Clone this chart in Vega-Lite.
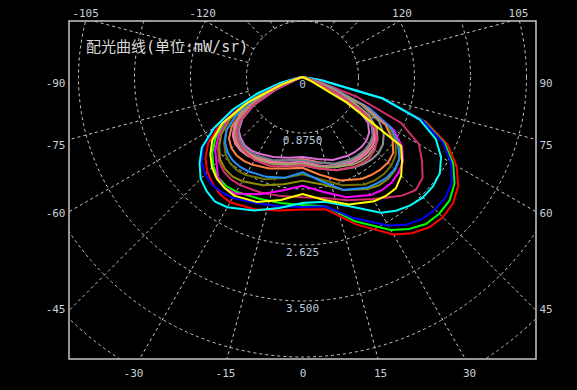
{
"$schema": "https://vega.github.io/schema/vega-lite/v6.json",
"width": 467, "height": 338,
"autosize": {"type": "none"},
"padding": {"left": 69, "top": 21, "right": 41, "bottom": 31},
"background": "#000000",
"config": {"view": {"stroke": "#c8c8c8", "strokeWidth": 1.5}, "font": "DejaVu Sans Mono"},
"resolve": {"axis": {"x": "independent", "y": "independent"}},
"datasets": {
"rings": [{"r": 0.875}, {"r": 1.75}, {"r": 2.625}, {"r": 3.5}, {"r": 4.375}, {"r": 5.25}],
"spokes": [{"a": 15}, {"a": 30}, {"a": 45}, {"a": 60}, {"a": 75}, {"a": 105}, {"a": 120}, {"a": 135}, {"a": 150}, {"a": 165}, {"a": -15}, {"a": -30}, {"a": -45}, {"a": -60}, {"a": -75}, {"a": -105}, {"a": -120}, {"a": -135}, {"a": -150}, {"a": -165}],
"ringlabels": [{"r": 0, "t": "0"}, {"r": 0.875, "t": "0.8750"}, {"r": 2.625, "t": "2.625"}, {"r": 3.5, "t": "3.500"}],
"curves": [
{"c":"red","a":-90,"r":0},{"c":"red","a":-80,"r":0.08},{"c":"red","a":-75,"r":0.3},{"c":"red","a":-70,"r":0.68},{"c":"red","a":-65,"r":1.1},{"c":"red","a":-60,"r":1.5},{"c":"red","a":-55,"r":1.8},{"c":"red","a":-50,"r":1.98},{"c":"red","a":-45,"r":2.1},{"c":"red","a":-40,"r":2.18},{"c":"red","a":-35,"r":2.24},{"c":"red","a":-30,"r":2.26},{"c":"red","a":-20,"r":2.2},{"c":"red","a":-10,"r":2.12},{"c":"red","a":0,"r":2.07},{"c":"red","a":10,"r":2.1},{"c":"red","a":20,"r":2.45},{"c":"red","a":30,"r":2.84},{"c":"red","a":35,"r":2.98},{"c":"red","a":40,"r":3.07},{"c":"red","a":45,"r":3.1},{"c":"red","a":50,"r":3.07},{"c":"red","a":55,"r":2.97},{"c":"red","a":60,"r":2.78},{"c":"red","a":65,"r":2.5},{"c":"red","a":70,"r":2.05},{"c":"red","a":75,"r":1.3},{"c":"red","a":80,"r":0.3},{"c":"red","a":90,"r":0},
{"c":"green","a":-90,"r":0},{"c":"green","a":-80,"r":0.06},{"c":"green","a":-75,"r":0.25},{"c":"green","a":-70,"r":0.6},{"c":"green","a":-65,"r":1.0},{"c":"green","a":-60,"r":1.38},{"c":"green","a":-55,"r":1.66},{"c":"green","a":-50,"r":1.84},{"c":"green","a":-45,"r":1.97},{"c":"green","a":-40,"r":2.05},{"c":"green","a":-35,"r":2.08},{"c":"green","a":-30,"r":2.07},{"c":"green","a":-20,"r":2.02},{"c":"green","a":-10,"r":2.0},{"c":"green","a":0,"r":2.0},{"c":"green","a":10,"r":2.05},{"c":"green","a":20,"r":2.4},{"c":"green","a":30,"r":2.76},{"c":"green","a":35,"r":2.9},{"c":"green","a":40,"r":3.0},{"c":"green","a":45,"r":3.02},{"c":"green","a":50,"r":3.0},{"c":"green","a":55,"r":2.9},{"c":"green","a":60,"r":2.72},{"c":"green","a":65,"r":2.45},{"c":"green","a":70,"r":2.02},{"c":"green","a":75,"r":1.3},{"c":"green","a":80,"r":0.3},{"c":"green","a":90,"r":0},
{"c":"blue","a":-90,"r":0},{"c":"blue","a":-80,"r":0.08},{"c":"blue","a":-75,"r":0.32},{"c":"blue","a":-70,"r":0.72},{"c":"blue","a":-65,"r":1.15},{"c":"blue","a":-60,"r":1.58},{"c":"blue","a":-55,"r":1.9},{"c":"blue","a":-50,"r":2.06},{"c":"blue","a":-45,"r":2.15},{"c":"blue","a":-40,"r":2.2},{"c":"blue","a":-35,"r":2.2},{"c":"blue","a":-30,"r":2.18},{"c":"blue","a":-20,"r":2.1},{"c":"blue","a":-10,"r":2.05},{"c":"blue","a":0,"r":2.03},{"c":"blue","a":10,"r":2.05},{"c":"blue","a":20,"r":2.35},{"c":"blue","a":30,"r":2.68},{"c":"blue","a":35,"r":2.82},{"c":"blue","a":40,"r":2.9},{"c":"blue","a":45,"r":2.93},{"c":"blue","a":50,"r":2.92},{"c":"blue","a":55,"r":2.85},{"c":"blue","a":60,"r":2.68},{"c":"blue","a":65,"r":2.42},{"c":"blue","a":70,"r":2.0},{"c":"blue","a":75,"r":1.3},{"c":"blue","a":80,"r":0.3},{"c":"blue","a":90,"r":0},
{"c":"cyan","a":-90,"r":0},{"c":"cyan","a":-80,"r":0.08},{"c":"cyan","a":-75,"r":0.35},{"c":"cyan","a":-70,"r":0.75},{"c":"cyan","a":-65,"r":1.2},{"c":"cyan","a":-60,"r":1.6},{"c":"cyan","a":-55,"r":1.92},{"c":"cyan","a":-50,"r":2.1},{"c":"cyan","a":-45,"r":2.25},{"c":"cyan","a":-40,"r":2.33},{"c":"cyan","a":-35,"r":2.38},{"c":"cyan","a":-30,"r":2.35},{"c":"cyan","a":-20,"r":2.22},{"c":"cyan","a":-10,"r":2.08},{"c":"cyan","a":0,"r":1.97},{"c":"cyan","a":10,"r":1.98},{"c":"cyan","a":20,"r":2.15},{"c":"cyan","a":30,"r":2.45},{"c":"cyan","a":35,"r":2.55},{"c":"cyan","a":40,"r":2.62},{"c":"cyan","a":45,"r":2.66},{"c":"cyan","a":50,"r":2.66},{"c":"cyan","a":55,"r":2.62},{"c":"cyan","a":60,"r":2.5},{"c":"cyan","a":65,"r":2.3},{"c":"cyan","a":70,"r":1.95},{"c":"cyan","a":75,"r":1.3},{"c":"cyan","a":80,"r":0.3},{"c":"cyan","a":90,"r":0},
{"c":"crimson","a":-80,"r":0},{"c":"crimson","a":-75,"r":0.1},{"c":"crimson","a":-70,"r":0.4},{"c":"crimson","a":-65,"r":0.9},{"c":"crimson","a":-60,"r":1.3},{"c":"crimson","a":-55,"r":1.55},{"c":"crimson","a":-50,"r":1.72},{"c":"crimson","a":-45,"r":1.85},{"c":"crimson","a":-40,"r":1.92},{"c":"crimson","a":-35,"r":1.95},{"c":"crimson","a":-30,"r":1.95},{"c":"crimson","a":-20,"r":1.92},{"c":"crimson","a":-10,"r":1.89},{"c":"crimson","a":0,"r":1.88},{"c":"crimson","a":10,"r":1.92},{"c":"crimson","a":20,"r":2.05},{"c":"crimson","a":30,"r":2.2},{"c":"crimson","a":35,"r":2.3},{"c":"crimson","a":40,"r":2.42},{"c":"crimson","a":45,"r":2.5},{"c":"crimson","a":50,"r":2.45},{"c":"crimson","a":55,"r":2.28},{"c":"crimson","a":60,"r":2.1},{"c":"crimson","a":65,"r":1.7},{"c":"crimson","a":70,"r":0.9},{"c":"crimson","a":75,"r":0.25},{"c":"crimson","a":80,"r":0},
{"c":"magenta","a":-80,"r":0},{"c":"magenta","a":-75,"r":0.1},{"c":"magenta","a":-70,"r":0.45},{"c":"magenta","a":-65,"r":0.95},{"c":"magenta","a":-60,"r":1.35},{"c":"magenta","a":-55,"r":1.6},{"c":"magenta","a":-50,"r":1.78},{"c":"magenta","a":-45,"r":1.9},{"c":"magenta","a":-40,"r":2.05},{"c":"magenta","a":-35,"r":2.12},{"c":"magenta","a":-30,"r":2.1},{"c":"magenta","a":-20,"r":1.95},{"c":"magenta","a":-10,"r":1.8},{"c":"magenta","a":0,"r":1.7},{"c":"magenta","a":10,"r":1.82},{"c":"magenta","a":20,"r":2.0},{"c":"magenta","a":30,"r":2.13},{"c":"magenta","a":35,"r":2.16},{"c":"magenta","a":40,"r":2.16},{"c":"magenta","a":45,"r":2.12},{"c":"magenta","a":50,"r":2.05},{"c":"magenta","a":55,"r":1.9},{"c":"magenta","a":60,"r":1.65},{"c":"magenta","a":65,"r":1.1},{"c":"magenta","a":70,"r":0.4},{"c":"magenta","a":75,"r":0.1},{"c":"magenta","a":80,"r":0},
{"c":"olive","a":-80,"r":0},{"c":"olive","a":-75,"r":0.05},{"c":"olive","a":-70,"r":0.4},{"c":"olive","a":-65,"r":0.9},{"c":"olive","a":-60,"r":1.3},{"c":"olive","a":-55,"r":1.55},{"c":"olive","a":-50,"r":1.7},{"c":"olive","a":-45,"r":1.82},{"c":"olive","a":-40,"r":1.88},{"c":"olive","a":-35,"r":1.9},{"c":"olive","a":-30,"r":1.88},{"c":"olive","a":-20,"r":1.8},{"c":"olive","a":-10,"r":1.7},{"c":"olive","a":0,"r":1.62},{"c":"olive","a":10,"r":1.7},{"c":"olive","a":20,"r":1.88},{"c":"olive","a":30,"r":2.02},{"c":"olive","a":35,"r":2.07},{"c":"olive","a":40,"r":2.08},{"c":"olive","a":45,"r":2.05},{"c":"olive","a":50,"r":1.98},{"c":"olive","a":55,"r":1.85},{"c":"olive","a":60,"r":1.6},{"c":"olive","a":65,"r":1.1},{"c":"olive","a":70,"r":0.4},{"c":"olive","a":75,"r":0.05},{"c":"olive","a":80,"r":0},
{"c":"olive2","a":-75,"r":0},{"c":"olive2","a":-70,"r":0.3},{"c":"olive2","a":-65,"r":0.8},{"c":"olive2","a":-60,"r":1.2},{"c":"olive2","a":-55,"r":1.45},{"c":"olive2","a":-50,"r":1.6},{"c":"olive2","a":-45,"r":1.7},{"c":"olive2","a":-40,"r":1.76},{"c":"olive2","a":-35,"r":1.78},{"c":"olive2","a":-30,"r":1.77},{"c":"olive2","a":-20,"r":1.7},{"c":"olive2","a":-10,"r":1.6},{"c":"olive2","a":0,"r":1.52},{"c":"olive2","a":10,"r":1.62},{"c":"olive2","a":20,"r":1.8},{"c":"olive2","a":30,"r":1.94},{"c":"olive2","a":35,"r":1.97},{"c":"olive2","a":40,"r":1.98},{"c":"olive2","a":45,"r":1.96},{"c":"olive2","a":50,"r":1.9},{"c":"olive2","a":55,"r":1.78},{"c":"olive2","a":60,"r":1.55},{"c":"olive2","a":65,"r":1.05},{"c":"olive2","a":70,"r":0.4},{"c":"olive2","a":75,"r":0.05},{"c":"olive2","a":80,"r":0},
{"c":"dodger","a":-80,"r":0},{"c":"dodger","a":-75,"r":0.05},{"c":"dodger","a":-70,"r":0.35},{"c":"dodger","a":-65,"r":0.8},{"c":"dodger","a":-60,"r":1.2},{"c":"dodger","a":-55,"r":1.45},{"c":"dodger","a":-50,"r":1.58},{"c":"dodger","a":-45,"r":1.66},{"c":"dodger","a":-40,"r":1.7},{"c":"dodger","a":-35,"r":1.71},{"c":"dodger","a":-30,"r":1.7},{"c":"dodger","a":-20,"r":1.66},{"c":"dodger","a":-10,"r":1.6},{"c":"dodger","a":0,"r":1.49},{"c":"dodger","a":10,"r":1.65},{"c":"dodger","a":20,"r":1.88},{"c":"dodger","a":30,"r":2.0},{"c":"dodger","a":35,"r":2.03},{"c":"dodger","a":40,"r":2.05},{"c":"dodger","a":45,"r":2.04},{"c":"dodger","a":50,"r":1.98},{"c":"dodger","a":55,"r":1.82},{"c":"dodger","a":60,"r":1.6},{"c":"dodger","a":65,"r":1.15},{"c":"dodger","a":70,"r":0.5},{"c":"dodger","a":75,"r":0.1},{"c":"dodger","a":80,"r":0},
{"c":"orange","a":-75,"r":0},{"c":"orange","a":-70,"r":0.25},{"c":"orange","a":-65,"r":0.7},{"c":"orange","a":-60,"r":1.1},{"c":"orange","a":-55,"r":1.35},{"c":"orange","a":-50,"r":1.5},{"c":"orange","a":-45,"r":1.57},{"c":"orange","a":-40,"r":1.6},{"c":"orange","a":-35,"r":1.6},{"c":"orange","a":-30,"r":1.58},{"c":"orange","a":-20,"r":1.52},{"c":"orange","a":-10,"r":1.45},{"c":"orange","a":0,"r":1.42},{"c":"orange","a":10,"r":1.55},{"c":"orange","a":20,"r":1.72},{"c":"orange","a":30,"r":1.84},{"c":"orange","a":35,"r":1.87},{"c":"orange","a":40,"r":1.89},{"c":"orange","a":45,"r":1.89},{"c":"orange","a":50,"r":1.85},{"c":"orange","a":55,"r":1.72},{"c":"orange","a":60,"r":1.5},{"c":"orange","a":65,"r":1.05},{"c":"orange","a":70,"r":0.45},{"c":"orange","a":75,"r":0.05},{"c":"orange","a":80,"r":0},
{"c":"gray","a":-75,"r":0},{"c":"gray","a":-70,"r":0.2},{"c":"gray","a":-65,"r":0.65},{"c":"gray","a":-60,"r":1.05},{"c":"gray","a":-55,"r":1.3},{"c":"gray","a":-50,"r":1.42},{"c":"gray","a":-45,"r":1.48},{"c":"gray","a":-40,"r":1.5},{"c":"gray","a":-35,"r":1.5},{"c":"gray","a":-30,"r":1.48},{"c":"gray","a":-20,"r":1.44},{"c":"gray","a":-10,"r":1.4},{"c":"gray","a":0,"r":1.38},{"c":"gray","a":10,"r":1.45},{"c":"gray","a":20,"r":1.55},{"c":"gray","a":30,"r":1.63},{"c":"gray","a":35,"r":1.66},{"c":"gray","a":40,"r":1.68},{"c":"gray","a":45,"r":1.68},{"c":"gray","a":50,"r":1.64},{"c":"gray","a":55,"r":1.55},{"c":"gray","a":60,"r":1.38},{"c":"gray","a":65,"r":1.0},{"c":"gray","a":70,"r":0.45},{"c":"gray","a":75,"r":0.05},{"c":"gray","a":80,"r":0},
{"c":"teal","a":-75,"r":0},{"c":"teal","a":-70,"r":0.15},{"c":"teal","a":-65,"r":0.55},{"c":"teal","a":-60,"r":0.95},{"c":"teal","a":-55,"r":1.2},{"c":"teal","a":-50,"r":1.35},{"c":"teal","a":-45,"r":1.42},{"c":"teal","a":-40,"r":1.45},{"c":"teal","a":-35,"r":1.46},{"c":"teal","a":-30,"r":1.45},{"c":"teal","a":-20,"r":1.42},{"c":"teal","a":-10,"r":1.4},{"c":"teal","a":0,"r":1.38},{"c":"teal","a":10,"r":1.42},{"c":"teal","a":20,"r":1.48},{"c":"teal","a":30,"r":1.52},{"c":"teal","a":35,"r":1.54},{"c":"teal","a":40,"r":1.55},{"c":"teal","a":45,"r":1.54},{"c":"teal","a":50,"r":1.5},{"c":"teal","a":55,"r":1.4},{"c":"teal","a":60,"r":1.2},{"c":"teal","a":65,"r":0.8},{"c":"teal","a":70,"r":0.3},{"c":"teal","a":75,"r":0},
{"c":"salmon","a":-75,"r":0},{"c":"salmon","a":-70,"r":0.1},{"c":"salmon","a":-65,"r":0.5},{"c":"salmon","a":-60,"r":0.95},{"c":"salmon","a":-55,"r":1.25},{"c":"salmon","a":-50,"r":1.38},{"c":"salmon","a":-45,"r":1.44},{"c":"salmon","a":-40,"r":1.46},{"c":"salmon","a":-35,"r":1.46},{"c":"salmon","a":-30,"r":1.45},{"c":"salmon","a":-20,"r":1.4},{"c":"salmon","a":-10,"r":1.32},{"c":"salmon","a":0,"r":1.28},{"c":"salmon","a":10,"r":1.35},{"c":"salmon","a":20,"r":1.45},{"c":"salmon","a":30,"r":1.5},{"c":"salmon","a":35,"r":1.52},{"c":"salmon","a":40,"r":1.52},{"c":"salmon","a":45,"r":1.5},{"c":"salmon","a":50,"r":1.45},{"c":"salmon","a":55,"r":1.32},{"c":"salmon","a":60,"r":1.05},{"c":"salmon","a":65,"r":0.55},{"c":"salmon","a":70,"r":0.1},{"c":"salmon","a":75,"r":0},
{"c":"hotpink","a":-75,"r":0},{"c":"hotpink","a":-70,"r":0.12},{"c":"hotpink","a":-65,"r":0.55},{"c":"hotpink","a":-60,"r":1.0},{"c":"hotpink","a":-55,"r":1.28},{"c":"hotpink","a":-50,"r":1.42},{"c":"hotpink","a":-45,"r":1.48},{"c":"hotpink","a":-40,"r":1.5},{"c":"hotpink","a":-35,"r":1.5},{"c":"hotpink","a":-30,"r":1.48},{"c":"hotpink","a":-20,"r":1.42},{"c":"hotpink","a":-10,"r":1.36},{"c":"hotpink","a":0,"r":1.32},{"c":"hotpink","a":10,"r":1.4},{"c":"hotpink","a":20,"r":1.5},{"c":"hotpink","a":30,"r":1.55},{"c":"hotpink","a":35,"r":1.56},{"c":"hotpink","a":40,"r":1.56},{"c":"hotpink","a":45,"r":1.54},{"c":"hotpink","a":50,"r":1.48},{"c":"hotpink","a":55,"r":1.36},{"c":"hotpink","a":60,"r":1.1},{"c":"hotpink","a":65,"r":0.6},{"c":"hotpink","a":70,"r":0.12},{"c":"hotpink","a":75,"r":0},
{"c":"orchid","a":-75,"r":0},{"c":"orchid","a":-70,"r":0.08},{"c":"orchid","a":-65,"r":0.45},{"c":"orchid","a":-60,"r":0.88},{"c":"orchid","a":-55,"r":1.15},{"c":"orchid","a":-50,"r":1.3},{"c":"orchid","a":-45,"r":1.36},{"c":"orchid","a":-40,"r":1.4},{"c":"orchid","a":-35,"r":1.4},{"c":"orchid","a":-30,"r":1.38},{"c":"orchid","a":-20,"r":1.33},{"c":"orchid","a":-10,"r":1.28},{"c":"orchid","a":0,"r":1.25},{"c":"orchid","a":10,"r":1.3},{"c":"orchid","a":20,"r":1.38},{"c":"orchid","a":30,"r":1.42},{"c":"orchid","a":35,"r":1.43},{"c":"orchid","a":40,"r":1.43},{"c":"orchid","a":45,"r":1.41},{"c":"orchid","a":50,"r":1.36},{"c":"orchid","a":55,"r":1.25},{"c":"orchid","a":60,"r":1.0},{"c":"orchid","a":65,"r":0.5},{"c":"orchid","a":70,"r":0.08},{"c":"orchid","a":75,"r":0},
{"c":"khaki","a":-75,"r":0},{"c":"khaki","a":-70,"r":0.15},{"c":"khaki","a":-65,"r":0.6},{"c":"khaki","a":-60,"r":1.0},{"c":"khaki","a":-55,"r":1.25},{"c":"khaki","a":-50,"r":1.38},{"c":"khaki","a":-45,"r":1.45},{"c":"khaki","a":-40,"r":1.48},{"c":"khaki","a":-35,"r":1.49},{"c":"khaki","a":-30,"r":1.48},{"c":"khaki","a":-20,"r":1.44},{"c":"khaki","a":-10,"r":1.38},{"c":"khaki","a":0,"r":1.35},{"c":"khaki","a":10,"r":1.42},{"c":"khaki","a":20,"r":1.5},{"c":"khaki","a":30,"r":1.58},{"c":"khaki","a":35,"r":1.6},{"c":"khaki","a":40,"r":1.6},{"c":"khaki","a":45,"r":1.58},{"c":"khaki","a":50,"r":1.53},{"c":"khaki","a":55,"r":1.42},{"c":"khaki","a":60,"r":1.2},{"c":"khaki","a":65,"r":0.8},{"c":"khaki","a":70,"r":0.3},{"c":"khaki","a":75,"r":0},
{"c":"slate","a":-75,"r":0},{"c":"slate","a":-70,"r":0.12},{"c":"slate","a":-65,"r":0.52},{"c":"slate","a":-60,"r":0.92},{"c":"slate","a":-55,"r":1.18},{"c":"slate","a":-50,"r":1.32},{"c":"slate","a":-45,"r":1.39},{"c":"slate","a":-40,"r":1.42},{"c":"slate","a":-35,"r":1.43},{"c":"slate","a":-30,"r":1.42},{"c":"slate","a":-20,"r":1.38},{"c":"slate","a":-10,"r":1.32},{"c":"slate","a":0,"r":1.3},{"c":"slate","a":10,"r":1.36},{"c":"slate","a":20,"r":1.44},{"c":"slate","a":30,"r":1.49},{"c":"slate","a":35,"r":1.5},{"c":"slate","a":40,"r":1.5},{"c":"slate","a":45,"r":1.48},{"c":"slate","a":50,"r":1.43},{"c":"slate","a":55,"r":1.32},{"c":"slate","a":60,"r":1.1},{"c":"slate","a":65,"r":0.65},{"c":"slate","a":70,"r":0.15},{"c":"slate","a":75,"r":0},
{"c":"rose","a":-75,"r":0},{"c":"rose","a":-70,"r":0.1},{"c":"rose","a":-65,"r":0.5},{"c":"rose","a":-60,"r":0.9},{"c":"rose","a":-55,"r":1.2},{"c":"rose","a":-50,"r":1.35},{"c":"rose","a":-45,"r":1.42},{"c":"rose","a":-40,"r":1.46},{"c":"rose","a":-35,"r":1.48},{"c":"rose","a":-30,"r":1.5},{"c":"rose","a":-20,"r":1.48},{"c":"rose","a":-10,"r":1.42},{"c":"rose","a":0,"r":1.38},{"c":"rose","a":10,"r":1.45},{"c":"rose","a":20,"r":1.55},{"c":"rose","a":30,"r":1.62},{"c":"rose","a":35,"r":1.64},{"c":"rose","a":40,"r":1.64},{"c":"rose","a":45,"r":1.6},{"c":"rose","a":50,"r":1.52},{"c":"rose","a":55,"r":1.38},{"c":"rose","a":60,"r":1.1},{"c":"rose","a":65,"r":0.6},{"c":"rose","a":70,"r":0.12},{"c":"rose","a":75,"r":0},
{"c":"yellow","a":-80,"r":0},{"c":"yellow","a":-75,"r":0.05},{"c":"yellow","a":-70,"r":0.35},{"c":"yellow","a":-65,"r":0.95},{"c":"yellow","a":-60,"r":1.45},{"c":"yellow","a":-55,"r":1.72},{"c":"yellow","a":-50,"r":1.88},{"c":"yellow","a":-45,"r":2.0},{"c":"yellow","a":-40,"r":2.08},{"c":"yellow","a":-35,"r":2.12},{"c":"yellow","a":-30,"r":2.14},{"c":"yellow","a":-20,"r":2.08},{"c":"yellow","a":-10,"r":1.95},{"c":"yellow","a":0,"r":1.83},{"c":"yellow","a":10,"r":1.95},{"c":"yellow","a":20,"r":2.12},{"c":"yellow","a":30,"r":2.24},{"c":"yellow","a":35,"r":2.27},{"c":"yellow","a":40,"r":2.27},{"c":"yellow","a":45,"r":2.18},{"c":"yellow","a":50,"r":2.03},{"c":"yellow","a":55,"r":1.88},{"c":"yellow","a":60,"r":0.8},{"c":"yellow","a":65,"r":0.15},{"c":"yellow","a":70,"r":0}
]
},
"layer": [
{
"data": {"name": "rings"},
"mark": {"type": "point", "shape": "circle", "filled": false, "stroke": "#c8c8c8", "color": "#c8c8c8", "strokeWidth": 1, "strokeDash": [3, 3], "opacity": 1, "clip": true},
"encoding": {
"x": {"datum": 0, "type": "quantitative", "scale": {"domain": [-3.6484, 3.6484], "nice": false, "zero": false}, "axis": null},
"y": {"datum": 0, "type": "quantitative", "scale": {"domain": [-4.40625, 0.875], "nice": false, "zero": false}, "axis": null},
"size": {"field": "r", "type": "quantitative", "scale": {"type": "pow", "exponent": 2, "domain": [0, 5.25], "range": [0, 451584]}, "legend": null}
}
},
{
"data": {"name": "spokes"},
"transform": [
{"calculate": "0.875*sin(datum.a*PI/180)", "as": "x1"},
{"calculate": "-0.875*cos(datum.a*PI/180)", "as": "y1"},
{"calculate": "8*sin(datum.a*PI/180)", "as": "x2"},
{"calculate": "-8*cos(datum.a*PI/180)", "as": "y2"}
],
"mark": {"type": "rule", "stroke": "#c8c8c8", "strokeWidth": 1, "strokeDash": [3, 3], "clip": true},
"encoding": {
"x": {"field": "x1", "type": "quantitative", "scale": {"domain": [-3.6484, 3.6484], "nice": false, "zero": false}, "axis": null},
"y": {"field": "y1", "type": "quantitative", "scale": {"domain": [-4.40625, 0.875], "nice": false, "zero": false}, "axis": null},
"x2": {"field": "x2"},
"y2": {"field": "y2"}
}
},
{
"mark": {"type": "rule", "stroke": "#e8e8e8", "strokeWidth": 1},
"encoding": {
"y": {"datum": 0, "type": "quantitative", "scale": {"domain": [-4.40625, 0.875], "nice": false, "zero": false},
"axis": {"orient": "left", "values": [-0.109, -1.0625, -2.14, -3.63], "labelExpr": "datum.value > -0.5 ? '-90' : datum.value > -1.5 ? '-75' : datum.value > -3 ? '-60' : '-45'", "ticks": false, "tickSize": 0, "domain": false, "grid": false, "title": null, "labelColor": "#c8d0d8", "labelFont": "DejaVu Sans Mono", "labelFontSize": 11, "labelPadding": 4, "labelFlush": false, "labelOverlap": false}}
}
},
{
"mark": {"type": "rule", "stroke": "#e8e8e8", "strokeWidth": 1},
"encoding": {
"y": {"datum": 0, "type": "quantitative", "scale": {"domain": [-4.40625, 0.875], "nice": false, "zero": false},
"axis": {"orient": "right", "values": [-0.109, -1.0625, -2.14, -3.63], "labelExpr": "datum.value > -0.5 ? '90' : datum.value > -1.5 ? '75' : datum.value > -3 ? '60' : '45'", "ticks": false, "tickSize": 0, "domain": false, "grid": false, "title": null, "labelColor": "#c8d0d8", "labelFont": "DejaVu Sans Mono", "labelFontSize": 11, "labelPadding": 3, "labelFlush": false, "labelOverlap": false}}
}
},
{
"mark": {"type": "rule", "stroke": "#e8e8e8", "strokeWidth": 1},
"encoding": {
"x": {"datum": 0, "type": "quantitative", "scale": {"domain": [-3.6484, 3.6484], "nice": false, "zero": false},
"axis": {"orient": "bottom", "values": [-2.648, -1.211, 0, 1.211, 2.602], "labelExpr": "datum.value < -2 ? '-30' : datum.value < -0.5 ? '-15' : datum.value < 0.5 ? '0' : datum.value < 2 ? '15' : '30'", "ticks": false, "tickSize": 0, "domain": false, "grid": false, "title": null, "labelColor": "#c8d0d8", "labelFont": "DejaVu Sans Mono", "labelFontSize": 11, "labelPadding": 8, "labelFlush": false, "labelOverlap": false}}
}
},
{
"mark": {"type": "rule", "stroke": "#e8e8e8", "strokeWidth": 1},
"encoding": {
"x": {"datum": 0, "type": "quantitative", "scale": {"domain": [-3.6484, 3.6484], "nice": false, "zero": false},
"axis": {"orient": "top", "values": [-3.398, -1.57, 1.547, 3.367], "labelExpr": "datum.value < -2.5 ? '-105' : datum.value < 0 ? '-120' : datum.value < 2.5 ? '120' : '105'", "ticks": false, "tickSize": 0, "domain": false, "grid": false, "title": null, "labelColor": "#c8d0d8", "labelFont": "DejaVu Sans Mono", "labelFontSize": 11, "labelPadding": 3, "labelFlush": false, "labelOverlap": false}}
}
},
{
"data": {"name": "ringlabels"},
"transform": [{"calculate": "-datum.r", "as": "ny"}],
"mark": {"type": "text", "align": "center", "baseline": "middle", "dy": 8, "font": "DejaVu Sans Mono", "fontSize": 11, "color": "#b8c8dc"},
"encoding": {
"x": {"datum": 0, "type": "quantitative", "scale": {"domain": [-3.6484, 3.6484], "nice": false, "zero": false}, "axis": null},
"y": {"field": "ny", "type": "quantitative", "scale": {"domain": [-4.40625, 0.875], "nice": false, "zero": false}, "axis": null},
"text": {"field": "t"}
}
},
{
"data": {"name": "curves"},
"transform": [
{"calculate": "datum.r*sin(datum.a*PI/180)", "as": "x"},
{"calculate": "-datum.r*cos(datum.a*PI/180)", "as": "y"}
],
"mark": {"type": "line", "strokeWidth": 2, "clip": true},
"encoding": {
"x": {"field": "x", "type": "quantitative", "scale": {"domain": [-3.6484, 3.6484], "nice": false, "zero": false}, "axis": null},
"y": {"field": "y", "type": "quantitative", "scale": {"domain": [-4.40625, 0.875], "nice": false, "zero": false}, "axis": null},
"order": {"field": "a", "type": "quantitative"},
"color": {"field": "c", "type": "nominal", "legend": null,
"scale": {"domain": ["red", "green", "blue", "cyan", "crimson", "magenta", "olive", "olive2", "dodger", "orange", "gray", "teal", "salmon", "hotpink", "orchid", "khaki", "slate", "rose", "yellow"],
"range": ["#ff0000", "#00ff00", "#0000ff", "#00ffff", "#d22d6e", "#ff00ff", "#8c8c00", "#707000", "#1e90ff", "#ff7f40", "#909090", "#5f9ea0", "#fa8072", "#ff69b4", "#da70d6", "#a0a060", "#708090", "#dc3c6e", "#ffff00"]}}
}
},
{
"data": {"values": [{"t": "配光曲线(单位:mW/sr)"}]},
"mark": {"type": "text", "align": "left", "baseline": "middle", "font": "DejaVu Sans Mono, Noto Sans CJK SC", "fontSize": 15, "color": "#d8d8d8"},
"encoding": {
"x": {"datum": -3.383, "type": "quantitative", "scale": {"domain": [-3.6484, 3.6484], "nice": false, "zero": false}, "axis": null},
"y": {"datum": 0.461, "type": "quantitative", "scale": {"domain": [-4.40625, 0.875], "nice": false, "zero": false}, "axis": null},
"text": {"field": "t"}
}
}
]
}
